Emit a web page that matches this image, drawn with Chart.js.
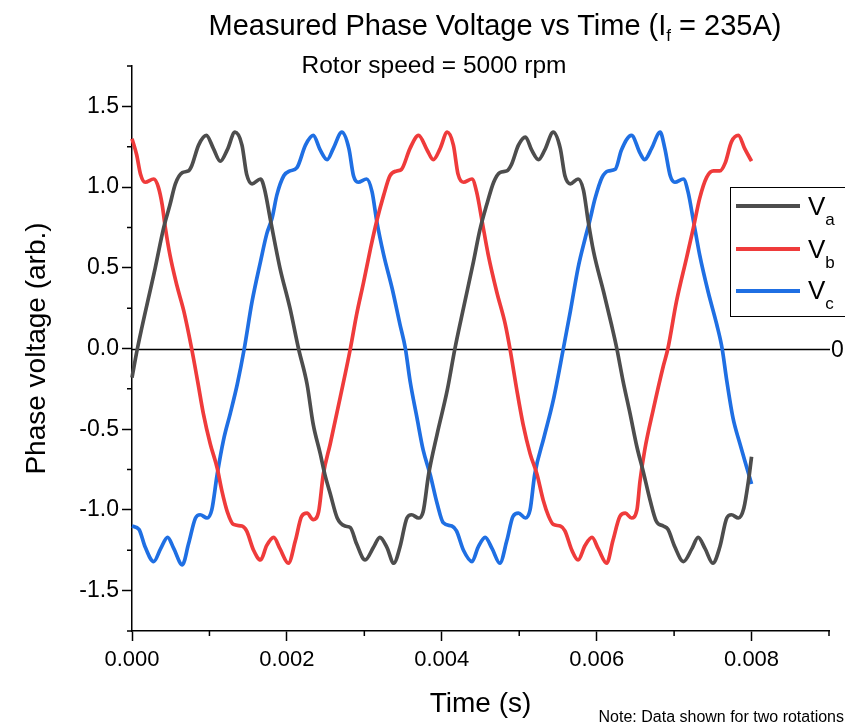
<!DOCTYPE html>
<html>
<head>
<meta charset="utf-8">
<script src="https://cdn.jsdelivr.net/npm/chart.js@4.4.0/dist/chart.umd.min.js"></script>
<style>
body { margin: 0; background: #fff; }
#wrap { position: relative; width: 845px; height: 728px; overflow: hidden; font-family: "Liberation Sans", Arial, sans-serif; color: #000; }
#phaseChart { position: absolute; left: 0; top: 0; }
.txt { position: absolute; white-space: nowrap; }
.title { left: 195px; width: 600px; top: 11px; text-align: center; font-size: 29px; line-height: 29px; }
.subtitle { left: 234px; width: 400px; top: 53px; text-align: center; font-size: 24.5px; line-height: 24.5px; }
.note { right: 1px; top: 709px; font-size: 16px; line-height: 16px; }
.legendBox { position: absolute; left: 730px; top: 187px; width: 140px; height: 130px; border: 1.5px solid #000; box-sizing: border-box; }
.legLine { position: absolute; left: 736px; width: 64px; height: 4px; }
.legText { left: 808px; font-size: 26px; line-height: 26px; }
.legText sub { font-size: 17px; vertical-align: -10px; line-height: 0; }
.title sub { font-size: 17px; vertical-align: -6px; line-height: 0; }
</style>
</head>
<body>
<div id="wrap">
  <canvas id="phaseChart" width="845" height="728"></canvas>
  <div class="txt title">Measured Phase Voltage vs Time (I<sub>f</sub> = 235A)</div>
  <div class="txt subtitle">Rotor speed = 5000 rpm</div>
  <div class="legendBox"></div>
  <div class="legLine" style="top:204px; background:#4d4d4d;"></div>
  <div class="legLine" style="top:247px; background:#ef3b3b;"></div>
  <div class="legLine" style="top:289px; background:#1f6fe3;"></div>
  <div class="txt legText" style="top:193px;">V<sub>a</sub></div>
  <div class="txt legText" style="top:236px;">V<sub>b</sub></div>
  <div class="txt legText" style="top:277px;">V<sub>c</sub></div>
  <div class="txt note">Note: Data shown for two rotations</div>
</div>
<script>
// time (s) and phase voltage (arb.)
const timeA = [0.00000, 0.00007, 0.00030, 0.00041, 0.00049, 0.00056, 0.00065, 0.00073, 0.00077, 0.00086,
  0.00096, 0.00105, 0.00114, 0.00123, 0.00133, 0.00142, 0.00148, 0.00155, 0.00166, 0.00171,
  0.00179, 0.00191, 0.00204, 0.00215, 0.00226, 0.00234, 0.00243, 0.00249, 0.00256, 0.00265,
  0.00275, 0.00282, 0.00290, 0.00301, 0.00312, 0.00320, 0.00329, 0.00338, 0.00346, 0.00355,
  0.00361, 0.00370, 0.00376, 0.00383, 0.00394, 0.00407, 0.00417, 0.00428, 0.00441, 0.00449,
  0.00458, 0.00467, 0.00475, 0.00484, 0.00490, 0.00499, 0.00508, 0.00516, 0.00525, 0.00533,
  0.00544, 0.00553, 0.00559, 0.00566, 0.00576, 0.00583, 0.00589, 0.00596, 0.00609, 0.00619,
  0.00626, 0.00634, 0.00643, 0.00652, 0.00660, 0.00669, 0.00677, 0.00686, 0.00692, 0.00701,
  0.00712, 0.00723, 0.00731, 0.00740, 0.00750, 0.00759, 0.00768, 0.00774, 0.00783, 0.00790,
  0.00796, 0.00800];
const voltA = [-0.18, 0.00, 0.50, 0.75, 0.89, 1.02, 1.09, 1.10, 1.13, 1.26,
  1.32, 1.24, 1.16, 1.23, 1.34, 1.26, 1.08, 1.02, 1.05, 0.99,
  0.79, 0.50, 0.25, 0.00, -0.22, -0.47, -0.65, -0.78, -0.90, -1.05,
  -1.10, -1.11, -1.21, -1.31, -1.23, -1.17, -1.23, -1.33, -1.23, -1.05,
  -1.03, -1.05, -1.01, -0.78, -0.53, -0.26, 0.00, 0.25, 0.54, 0.73,
  0.89, 1.03, 1.09, 1.10, 1.14, 1.26, 1.31, 1.23, 1.17, 1.23,
  1.34, 1.24, 1.07, 1.02, 1.05, 0.98, 0.79, 0.60, 0.35, 0.15,
  0.00, -0.20, -0.40, -0.61, -0.76, -0.94, -1.07, -1.10, -1.12, -1.23,
  -1.32, -1.24, -1.17, -1.24, -1.33, -1.23, -1.05, -1.03, -1.05, -0.99,
  -0.82, -0.67];

const timeB = [0.00000, 0.00006, 0.00011, 0.00017, 0.00028, 0.00034, 0.00039, 0.00043, 0.00049, 0.00058,
  0.00067, 0.00077, 0.00085, 0.00092, 0.00101, 0.00110, 0.00116, 0.00123, 0.00131, 0.00142,
  0.00148, 0.00157, 0.00166, 0.00174, 0.00183, 0.00191, 0.00202, 0.00211, 0.00219, 0.00226,
  0.00234, 0.00241, 0.00247, 0.00256, 0.00269, 0.00282, 0.00290, 0.00299, 0.00308, 0.00316,
  0.00325, 0.00333, 0.00342, 0.00348, 0.00359, 0.00370, 0.00381, 0.00389, 0.00398, 0.00407,
  0.00415, 0.00421, 0.00428, 0.00439, 0.00445, 0.00452, 0.00460, 0.00471, 0.00482, 0.00488,
  0.00497, 0.00505, 0.00514, 0.00523, 0.00531, 0.00538, 0.00544, 0.00553, 0.00559, 0.00568,
  0.00576, 0.00585, 0.00594, 0.00602, 0.00613, 0.00621, 0.00630, 0.00637, 0.00645, 0.00652,
  0.00656, 0.00662, 0.00673, 0.00686, 0.00692, 0.00703, 0.00716, 0.00725, 0.00733, 0.00742,
  0.00751, 0.00759, 0.00766, 0.00774, 0.00783, 0.00791, 0.00800];
const voltB = [1.30, 1.20, 1.08, 1.03, 1.05, 1.00, 0.89, 0.75, 0.58, 0.39,
  0.23, 0.00, -0.21, -0.40, -0.59, -0.74, -0.88, -1.01, -1.09, -1.10,
  -1.13, -1.25, -1.31, -1.22, -1.17, -1.24, -1.33, -1.19, -1.04, -1.02,
  -1.06, -1.01, -0.78, -0.59, -0.30, 0.00, 0.21, 0.41, 0.62, 0.79,
  0.95, 1.07, 1.10, 1.11, 1.24, 1.32, 1.23, 1.17, 1.24, 1.34,
  1.26, 1.08, 1.03, 1.05, 0.97, 0.79, 0.58, 0.35, 0.15, 0.00,
  -0.26, -0.47, -0.65, -0.78, -0.94, -1.04, -1.09, -1.10, -1.13, -1.25,
  -1.31, -1.22, -1.17, -1.24, -1.33, -1.19, -1.04, -1.02, -1.05, -1.00,
  -0.82, -0.63, -0.38, -0.11, 0.00, 0.29, 0.56, 0.75, 0.93, 1.06,
  1.10, 1.10, 1.15, 1.28, 1.32, 1.24, 1.16];

const timeC = [0.00000, 0.00009, 0.00017, 0.00028, 0.00037, 0.00046, 0.00054, 0.00065, 0.00073, 0.00082,
  0.00088, 0.00097, 0.00103, 0.00110, 0.00118, 0.00127, 0.00136, 0.00145, 0.00155, 0.00166,
  0.00174, 0.00181, 0.00187, 0.00196, 0.00204, 0.00213, 0.00224, 0.00234, 0.00243, 0.00252,
  0.00260, 0.00271, 0.00280, 0.00286, 0.00292, 0.00303, 0.00310, 0.00316, 0.00325, 0.00336,
  0.00346, 0.00353, 0.00359, 0.00368, 0.00376, 0.00385, 0.00394, 0.00402, 0.00413, 0.00419,
  0.00428, 0.00439, 0.00447, 0.00456, 0.00465, 0.00475, 0.00484, 0.00492, 0.00499, 0.00508,
  0.00514, 0.00520, 0.00532, 0.00544, 0.00557, 0.00566, 0.00576, 0.00585, 0.00591, 0.00598,
  0.00607, 0.00615, 0.00624, 0.00632, 0.00645, 0.00656, 0.00662, 0.00671, 0.00682, 0.00688,
  0.00695, 0.00701, 0.00712, 0.00718, 0.00725, 0.00733, 0.00744, 0.00755, 0.00762, 0.00768,
  0.00776, 0.00785, 0.00794, 0.00800];
const voltC = [-1.10, -1.12, -1.23, -1.32, -1.24, -1.17, -1.24, -1.34, -1.21, -1.05,
  -1.03, -1.05, -1.00, -0.78, -0.57, -0.40, -0.22, 0.00, 0.29, 0.54,
  0.71, 0.81, 0.95, 1.07, 1.10, 1.12, 1.26, 1.32, 1.23, 1.17,
  1.24, 1.34, 1.24, 1.07, 1.03, 1.05, 0.97, 0.79, 0.58, 0.37,
  0.15, 0.00, -0.20, -0.43, -0.63, -0.78, -0.96, -1.08, -1.10, -1.13,
  -1.25, -1.32, -1.23, -1.17, -1.24, -1.33, -1.19, -1.04, -1.02, -1.05,
  -1.00, -0.78, -0.55, -0.32, 0.00, 0.23, 0.50, 0.68, 0.79, 0.93,
  1.06, 1.10, 1.11, 1.23, 1.32, 1.21, 1.17, 1.24, 1.34, 1.24,
  1.07, 1.03, 1.05, 0.97, 0.79, 0.58, 0.35, 0.15, 0.00, -0.20,
  -0.43, -0.59, -0.74, -0.84];

// axis ticks
const xTicks = [0.000, 0.002, 0.004, 0.006, 0.008];
const xMinor = [0.001, 0.003, 0.005, 0.007, 0.009];
const yTicks = [-1.5, -1.0, -0.5, 0.0, 0.5, 1.0, 1.5];
const yMinor = [-1.75, -1.25, -0.75, -0.25, 0.25, 0.75, 1.25, 1.75];

const colA = '#4d4d4d';
const colB = '#ef3b3b';
const colC = '#1f6fe3';

function toPoints(ts, vs) {
    return ts.map((t, i) => ({ x: t, y: vs[i] }));
}

Chart.defaults.font.family = '"Liberation Sans", Arial, sans-serif';
Chart.defaults.color = '#000';

// horizontal line at y = 0 with its "0" label on the right
const zeroLine = {
    id: 'zeroLine',
    beforeDatasetsDraw(chart) {
        const { ctx, chartArea, scales: { y } } = chart;
        const py = Math.round(y.getPixelForValue(0)) + 0.5;
        ctx.save();
        ctx.strokeStyle = '#000';
        ctx.lineWidth = 1.3;
        ctx.beginPath();
        ctx.moveTo(chartArea.left, py);
        ctx.lineTo(chartArea.right + 1, py);
        ctx.stroke();
        ctx.font = '23px "Liberation Sans", Arial, sans-serif';
        ctx.fillStyle = '#000';
        ctx.textBaseline = 'middle';
        ctx.fillText('0', chartArea.right + 2, py + 1);
        ctx.restore();
    }
};

// short minor ticks
const minorTicks = {
    id: 'minorTicks',
    afterDraw(chart) {
        const { ctx, chartArea, scales: { x, y } } = chart;
        ctx.save();
        ctx.strokeStyle = '#000';
        ctx.lineWidth = 1.5;
        ctx.beginPath();
        yMinor.forEach(v => {
            const p = y.getPixelForValue(v);
            ctx.moveTo(chartArea.left - 5, p);
            ctx.lineTo(chartArea.left, p);
        });
        xMinor.forEach(v => {
            const p = x.getPixelForValue(v);
            ctx.moveTo(p, chartArea.bottom);
            ctx.lineTo(p, chartArea.bottom + 5);
        });
        ctx.stroke();
        ctx.restore();
    }
};

const phaseChart = new Chart(document.getElementById('phaseChart').getContext('2d'), {
    type: 'line',
    data: {
        datasets: [
            { label: 'Va', data: toPoints(timeA, voltA), borderColor: colA, backgroundColor: colA, clip: 8 },
            { label: 'Vb', data: toPoints(timeB, voltB), borderColor: colB, backgroundColor: colB, clip: 8 },
            { label: 'Vc', data: toPoints(timeC, voltC), borderColor: colC, backgroundColor: colC, clip: 8 }
        ]
    },
    options: {
        responsive: false,
        animation: false,
        layout: { padding: { top: 66, right: 16, left: 0, bottom: 0 } },
        plugins: {
            legend: { display: false },
            tooltip: { enabled: false }
        },
        elements: {
            point: { radius: 0 },
            line: { borderWidth: 3.7, cubicInterpolationMode: 'monotone' }
        },
        scales: {
            x: {
                type: 'linear',
                min: 0,
                max: 0.009,
                afterBuildTicks: (s) => { s.ticks = xTicks.map(v => ({ value: v })); },
                afterFit: (s) => { s.height = 97; },
                ticks: {
                    callback: (v) => v.toFixed(3),
                    font: { size: 22 },
                    color: '#000',
                    maxRotation: 0,
                    autoSkip: false,
                    padding: 6
                },
                grid: { drawOnChartArea: false, tickLength: 10, tickColor: '#000', tickWidth: 1.5 },
                border: { color: '#000', width: 1.5 },
                title: { display: true, text: 'Time (s)', font: { size: 28 }, color: '#000', padding: { top: 0, bottom: 7 } }
            },
            y: {
                min: -1.75,
                max: 1.75,
                afterBuildTicks: (s) => { s.ticks = yTicks.map(v => ({ value: v })); },
                afterFit: (s) => { s.width = 132; },
                ticks: {
                    callback: (v) => v.toFixed(1),
                    font: { size: 23 },
                    color: '#000',
                    autoSkip: false,
                    padding: 3
                },
                grid: { drawOnChartArea: false, tickLength: 10, tickColor: '#000', tickWidth: 1.5 },
                border: { color: '#000', width: 1.5 },
                title: { display: true, text: 'Phase voltage (arb.)', font: { size: 28 }, color: '#000', padding: { top: 20, bottom: 0 } }
            }
        }
    },
    plugins: [zeroLine, minorTicks]
});
</script>
</body>
</html>
